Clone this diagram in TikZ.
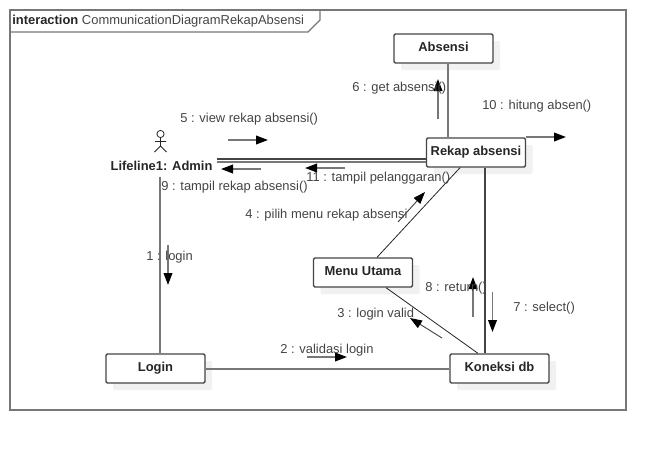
\documentclass[tikz,border=0pt]{standalone}
\usepackage{fontspec}
\setmainfont{Liberation Sans}
\usetikzlibrary{arrows.meta, shadows, calc}
\definecolor{linegray}{HTML}{777777}
\definecolor{boxedge}{HTML}{444444}
\definecolor{msgtext}{HTML}{444444}
\definecolor{shadowgray}{HTML}{F1F1F1}

\begin{document}
\begin{tikzpicture}[
  x=0.75pt, y=-0.75pt,
  every node/.style={font=\fontsize{9.7pt}{11pt}\selectfont},
  lifeline/.style={draw=boxedge, fill=white, line width=1pt, rounded corners=1pt,
    minimum width=74.25pt, minimum height=21.75pt, inner sep=0pt, text height=7pt, text depth=2pt,
    font=\fontsize{9.7pt}{11pt}\selectfont\bfseries,
    text=black!85, copy shadow={shadow xshift=5.25pt, shadow yshift=-5.25pt, fill=shadowgray, draw=none}},
  msg/.style={anchor=west, inner sep=0pt, text=msgtext},
  link/.style={linegray, line width=1.5pt},
  darklink/.style={boxedge, line width=1.5pt},
  thinlink/.style={black!85, line width=0.6pt},
  arrow/.style={linegray, line width=1.2pt, -{Triangle[length=9pt, width=6.5pt, color=black]}},
  thinarrow/.style={boxedge, line width=0.7pt, -{Triangle[length=9pt, width=6.5pt, color=black]}},
]

% Frame
\useasboundingbox (0,0) rectangle (666,450);
\draw[linegray, line width=0.9pt] (10,10) rectangle (626,410);
\draw[linegray, line width=0.9pt] (10,32) -- (308,32) -- (320,20) -- (320,10);
\node[msg, text=black!85] (frametitle) at (12,21.5) {\textbf{interaction} {\color{msgtext}CommunicationDiagramRekapAbsensi}};

% Lifelines
\node[lifeline] (absensi) at (443.5,48.5)  {Absensi};
\node[lifeline] (rekap)   at (476,152.5)   {Rekap absensi};
\node[lifeline] (menu)    at (363,272.5)   {Menu Utama};
\node[lifeline] (koneksi) at (499.5,368.5) {Koneksi db};
\node[lifeline] (login)   at (155.5,368.5) {Login};

% Actor
\node[inner sep=0pt, font=\fontsize{9.7pt}{11pt}\selectfont\bfseries, text=black!85] (admin) at (161.5,165.5) {Lifeline1: Admin};
\draw[black!85, line width=0.6pt] (160.5,134) circle (3.6);
\draw[black!85, line width=0.6pt] (160.5,137.6) -- (160.5,146) (155,141.5) -- (166,141.5)
  (154.5,152) -- (160.5,146) -- (166.5,152);

% Links
\draw[link] ($(absensi.south)+(4.5,0)$) -- ($(rekap.north)+(-28,0)$);
\draw[darklink] ($(rekap.south)+(9,0)$) -- ($(koneksi.north)+(-14.5,0)$);
\draw[thinlink] ($(rekap.south)+(-16,0)$) -- ($(menu.north)+(14,0)$);
\draw[thinlink] ($(menu.south)+(23,0)$) -- ($(koneksi.north)+(-21.5,0)$);
\draw[link] (login) -- (koneksi);
\draw[link] ($(admin.south)+(-1.5,6)$) -- ($(login.north)+(4.5,0)$);
\draw[darklink] ($(admin.east)+(4,-6.5)$) -- ($(rekap.west)+(0,6.5)$);
\draw[link] ($(admin.east)+(4,-3.5)$) -- ($(rekap.west)+(0,9.5)$);

% Messages
\coordinate (m1a) at (168,245);  \coordinate (m1b) at (168,285);
\coordinate (m2a) at (307,357);  \coordinate (m2b) at (347,357);
\coordinate (m3a) at (442,338);  \coordinate (m3b) at (410,318);
\coordinate (m4a) at (398,222);  \coordinate (m4b) at (425,192);
\coordinate (m5a) at (228,140);  \coordinate (m5b) at (268,140);
\coordinate (m6a) at (438,119);  \coordinate (m6b) at (438,79);
\coordinate (m7a) at (492.5,292);  \coordinate (m7b) at (492.5,332);
\coordinate (m8a) at (473,317);  \coordinate (m8b) at (473,277);
\coordinate (m9a) at (261,169);  \coordinate (m9b) at (221,169);
\coordinate (m10a) at (526,137); \coordinate (m10b) at (566,137);
\coordinate (m11a) at (345,168); \coordinate (m11b) at (305,168);
\foreach \m in {1,2,5,6,7,8,9,10,11}
  \draw[arrow] (m\m a) -- (m\m b);
\foreach \m in {3,4}
  \draw[thinarrow] (m\m a) -- (m\m b);

% Message labels
\node[msg] (t1)  at (146,257) {1 : login};
\node[msg] (t2)  at (280,350) {2 : validasi login};
\node[msg] (t3)  at (337,314) {3 : login valid};
\node[msg] (t4)  at (245,215) {4 : pilih menu rekap absensi};
\node[msg] (t5)  at (180,119) {5 : view rekap absensi()};
\node[msg] (t6)  at (352,88)  {6 : get absensi()};
\node[msg] (t7)  at (513,308) {7 : select()};
\node[msg] (t8)  at (425,288) {8 : return()};
\node[msg] (t9)  at (161,187) {9 : tampil rekap absensi()};
\node[msg] (t10) at (482,106) {10 : hitung absen()};
\node[msg] (t11) at (306,178) {11 : tampil pelanggaran()};

\end{tikzpicture}
\end{document}
